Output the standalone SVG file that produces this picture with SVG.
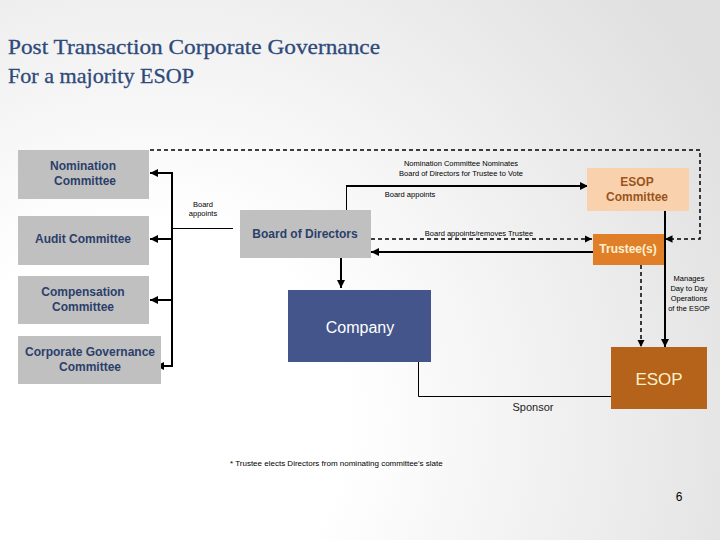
<svg xmlns="http://www.w3.org/2000/svg" width="720" height="540" viewBox="0 0 720 540">
<defs>
<radialGradient id="bg" cx="150" cy="420" r="650" gradientUnits="userSpaceOnUse">
<stop offset="0.3" stop-color="#ffffff"/>
<stop offset="1" stop-color="#e0e0e0"/>
</radialGradient>
<marker id="ah" viewBox="0 0 10 10" refX="10" refY="5" markerWidth="4" markerHeight="4" orient="auto" markerUnits="strokeWidth">
<path d="M0,0 L10,5 L0,10 z" fill="#000"/>
</marker>
<marker id="ahd" viewBox="0 0 10 10" refX="10" refY="5" markerWidth="5" markerHeight="5" orient="auto" markerUnits="strokeWidth">
<path d="M0,0 L10,5 L0,10 z" fill="#000"/>
</marker>
</defs>
<style>
.title{font-family:"Liberation Serif",serif;font-size:21px;fill:#2e4a7a;stroke:#2e4a7a;stroke-width:0.3}
.gray{fill:#c0c0c0}
.lbl{font-family:"Liberation Sans",Arial,sans-serif;font-size:12px;font-weight:bold;fill:#2b3f6b;text-anchor:middle}
.small{font-family:"Liberation Sans",Arial,sans-serif;font-size:7.5px;fill:#000;text-anchor:middle}
.thick{stroke:#000;stroke-width:2;fill:none}
.thin{stroke:#000;stroke-width:1;fill:none}
.dash{stroke:#000;stroke-width:1.5;fill:none;stroke-dasharray:4 3}
</style>
<rect x="0" y="0" width="720" height="540" fill="url(#bg)"/>
<text class="title" x="8" y="54" textLength="372" lengthAdjust="spacingAndGlyphs">Post Transaction Corporate Governance</text>
<text class="title" x="8" y="83" textLength="186" lengthAdjust="spacingAndGlyphs">For a majority ESOP</text>

<g id="connectors">
<line class="thick" x1="172" y1="172" x2="172" y2="367"/>
<line class="thick" x1="172" y1="173" x2="150" y2="173" marker-end="url(#ah)"/>
<line class="thick" x1="172" y1="239" x2="150" y2="239" marker-end="url(#ah)"/>
<line class="thick" x1="172" y1="300" x2="150" y2="300" marker-end="url(#ah)"/>
<line class="thick" x1="172" y1="366" x2="156" y2="366" marker-end="url(#ah)"/>
<line class="thin" x1="172" y1="228.5" x2="233" y2="228.5"/>
<polyline class="thin" points="346.5,210 346.5,186 360,186"/>
<line class="thick" x1="346" y1="186" x2="588" y2="186" marker-end="url(#ah)"/>
<line class="dash" x1="371" y1="239" x2="592" y2="239" marker-end="url(#ahd)"/>
<line class="thick" x1="593" y1="252" x2="371" y2="252" marker-end="url(#ah)"/>
<polyline class="dash" points="150,150 700,150 700,239 665,239" marker-end="url(#ahd)"/>
<line class="thick" x1="341" y1="258" x2="341" y2="288" marker-end="url(#ah)"/>
<line class="thick" x1="665" y1="211" x2="665" y2="347" marker-end="url(#ah)"/>
<line class="dash" x1="641" y1="265" x2="641" y2="347" marker-end="url(#ahd)"/>
<polyline class="thin" points="418.5,362 418.5,396.5 611,396.5"/>
</g>

<g id="nomination">
<rect class="gray" x="18" y="150" width="131" height="49"/>
<text class="lbl" x="83" y="170">Nomination</text>
<text class="lbl" x="85" y="185">Committee</text>
</g>
<g id="audit">
<rect class="gray" x="18" y="216" width="131" height="49"/>
<text class="lbl" x="83" y="243">Audit Committee</text>
</g>
<g id="compensation">
<rect class="gray" x="18" y="276" width="131" height="48"/>
<text class="lbl" x="83" y="296">Compensation</text>
<text class="lbl" x="83" y="311">Committee</text>
</g>
<g id="corpgov">
<rect class="gray" x="18" y="336" width="143" height="48"/>
<text class="lbl" x="90" y="356">Corporate Governance</text>
<text class="lbl" x="90" y="371">Committee</text>
</g>
<g id="board">
<rect class="gray" x="240" y="210" width="131" height="48"/>
<text class="lbl" x="305" y="238">Board of Directors</text>
</g>
<g id="esopcommittee">
<rect x="587" y="168" width="102" height="43" fill="#f9d2ad"/>
<text class="lbl" x="637" y="186" style="fill:#9a5420">ESOP</text>
<text class="lbl" x="637" y="201" style="fill:#9a5420">Committee</text>
</g>
<g id="trustee">
<rect x="593" y="234" width="71" height="31" fill="#e07f28"/>
<text class="lbl" x="628" y="253" style="fill:#fdf0d0">Trustee(s)</text>
</g>
<g id="company">
<rect x="288" y="290" width="143" height="72" fill="#43558a"/>
<text x="360" y="333" font-family="Liberation Sans, Arial, sans-serif" font-size="16" fill="#ffffff" text-anchor="middle">Company</text>
</g>
<g id="esop">
<rect x="611" y="347" width="96" height="62" fill="#b5621a"/>
<text x="659" y="385" font-family="Liberation Sans, Arial, sans-serif" font-size="17" fill="#fdf2c8" text-anchor="middle">ESOP</text>
</g>

<g id="labels">
<text class="small" x="203" y="207">Board</text>
<text class="small" x="203" y="216">appoints</text>
<text class="small" x="461" y="166">Nomination Committee Nominates</text>
<text class="small" x="461" y="176">Board of Directors for Trustee to Vote</text>
<text class="small" x="410" y="197">Board appoints</text>
<text class="small" x="479" y="236">Board appoints/removes Trustee</text>
<text class="small" x="689" y="281">Manages</text>
<text class="small" x="689" y="291">Day to Day</text>
<text class="small" x="689" y="301">Operations</text>
<text class="small" x="689" y="311">of the ESOP</text>
<text x="533" y="411" font-family="Liberation Sans, Arial, sans-serif" font-size="11" fill="#222" text-anchor="middle">Sponsor</text>
<text x="230" y="466" font-family="Liberation Sans, Arial, sans-serif" font-size="8" fill="#000">* Trustee elects Directors from nominating committee's slate</text>
<text x="679" y="501" font-family="Liberation Sans, Arial, sans-serif" font-size="12" fill="#000" text-anchor="middle">6</text>
</g>
</svg>
